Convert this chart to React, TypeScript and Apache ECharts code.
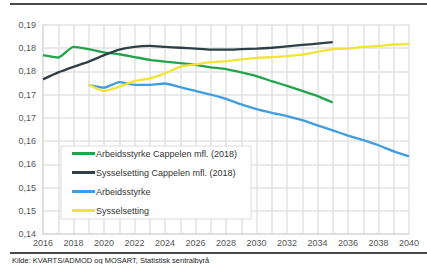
import React, { useEffect, useRef } from "react";
import * as echarts from "echarts";

const years = [
  2016, 2017, 2018, 2019, 2020, 2021, 2022, 2023, 2024, 2025, 2026, 2027, 2028,
  2029, 2030, 2031, 2032, 2033, 2034, 2035, 2036, 2037, 2038, 2039, 2040,
];

// 2016–2035
const arbeidsstyrkeCappelen = [
  0.1785, 0.178, 0.1803, 0.1798, 0.1791, 0.1787, 0.1781, 0.1775, 0.1771, 0.1768,
  0.1764, 0.1759, 0.1755, 0.1748, 0.174, 0.1729, 0.1719, 0.1708, 0.1697, 0.1683,
];
// 2016–2035
const sysselsettingCappelen = [
  0.1733, 0.1748, 0.176, 0.1771, 0.1785, 0.1797, 0.1803, 0.1805, 0.1803, 0.1801,
  0.1799, 0.1797, 0.1797, 0.1798, 0.1799, 0.1801, 0.1804, 0.1807, 0.181, 0.1813,
];
// 2019–2040
const arbeidsstyrke = [
  0.1721, 0.1715, 0.1727, 0.1721, 0.1721, 0.1724, 0.1716, 0.1708, 0.17, 0.1691,
  0.1679, 0.1669, 0.1661, 0.1654, 0.1645, 0.1634, 0.1623, 0.1612, 0.1602, 0.1591,
  0.1578, 0.1567,
];
// 2019–2040
const sysselsetting = [
  0.1722, 0.1708, 0.1717, 0.1729, 0.1735, 0.1746, 0.176, 0.1765, 0.177, 0.1772,
  0.1776, 0.1779, 0.1781, 0.1783, 0.1786, 0.1792, 0.1798, 0.1799, 0.1803, 0.1805,
  0.1808, 0.1809,
];

const seriesNames = [
  "Arbeidsstyrke Cappelen mfl. (2018)",
  "Sysselsetting Cappelen mfl. (2018)",
  "Arbeidsstyrke",
  "Sysselsetting",
];
const colors = ["#23a34b", "#2f3f46", "#3f9de0", "#f1e432"];
const sourceText = "Kilde: KVARTS/ADMOD og MOSART, Statistisk sentralbyrå";

function pad(values: number[], startYear: number) {
  return years.map((y) => {
    const i = y - startYear;
    return i >= 0 && i < values.length ? values[i] : null;
  });
}

export default function App() {
  const ref = useRef<HTMLDivElement>(null);
  useEffect(() => {
    document.body.style.margin = "0";
    if (!ref.current) return;
    const chart = echarts.init(ref.current, null, { renderer: "svg" });
    const font = "Liberation Sans, Arial, sans-serif";
    const datasets = [
      pad(arbeidsstyrkeCappelen, 2016),
      pad(sysselsettingCappelen, 2016),
      pad(arbeidsstyrke, 2019),
      pad(sysselsetting, 2019),
    ];
    chart.setOption({
      animation: false,
      textStyle: { fontFamily: font },
      grid: { left: 43, right: 18, top: 25, bottom: 30, containLabel: false },
      legend: {
        orient: "vertical",
        left: 61,
        top: 146,
        itemWidth: 23,
        itemHeight: 3,
        itemGap: 8,
        padding: [2, 14, 3, 11],
        backgroundColor: "#ffffff",
        borderColor: "#dcdcdc",
        borderWidth: 1,
        icon: "rect",
        textStyle: { fontSize: 9, color: "#333", padding: [0, 0, 0, -4], lineHeight: 11 },
        data: seriesNames,
      },
      xAxis: {
        type: "category",
        data: years.map(String),
        boundaryGap: false,
        axisLine: { show: true, lineStyle: { color: "#dcdcdc", width: 1.5 } },
        axisTick: { show: false },
        axisLabel: {
          interval: 1,
          fontSize: 9,
          color: "#555",
          margin: 4,
        },
        splitLine: {
          show: true,
          interval: 0,
          lineStyle: { color: "#e2e2e2", width: 1.5 },
        },
      },
      yAxis: {
        type: "value",
        min: 0.14,
        max: 0.185,
        interval: 0.005,
        axisLine: { show: true, lineStyle: { color: "#dcdcdc", width: 1.5 } },
        axisTick: { show: false },
        axisLabel: {
          fontSize: 9,
          color: "#555",
          margin: 7,
          formatter: (v: number) =>
            (Math.round(v * 100 + 1e-6) / 100).toFixed(2).replace(".", ","),
        },
        splitLine: { lineStyle: { color: "#e2e2e2", width: 1.5 } },
      },
      series: seriesNames.map((name, i) => ({
        name,
        type: "line",
        data: datasets[i],
        showSymbol: false,
        symbol: "none",
        smooth: 0.2,
        connectNulls: false,
        color: colors[i],
        lineStyle: { color: colors[i], width: 2.3 },
        z: 3,
      })),
      graphic: [
        {
          type: "rect",
          shape: { x: 10, y: 3, width: 417, height: 2 },
          style: { fill: "#4a4a4a" },
        },
        {
          type: "rect",
          shape: { x: 10, y: 252, width: 417, height: 2 },
          style: { fill: "#4a4a4a" },
        },
        {
          type: "text",
          x: 12,
          y: 256,
          style: {
            text: sourceText,
            fontSize: 7.5,
            fill: "#222",
            fontFamily: font,
          },
        },
      ],
    });
    return () => chart.dispose();
  }, []);
  return <div ref={ref} style={{ width: 427, height: 264 }} />;
}
